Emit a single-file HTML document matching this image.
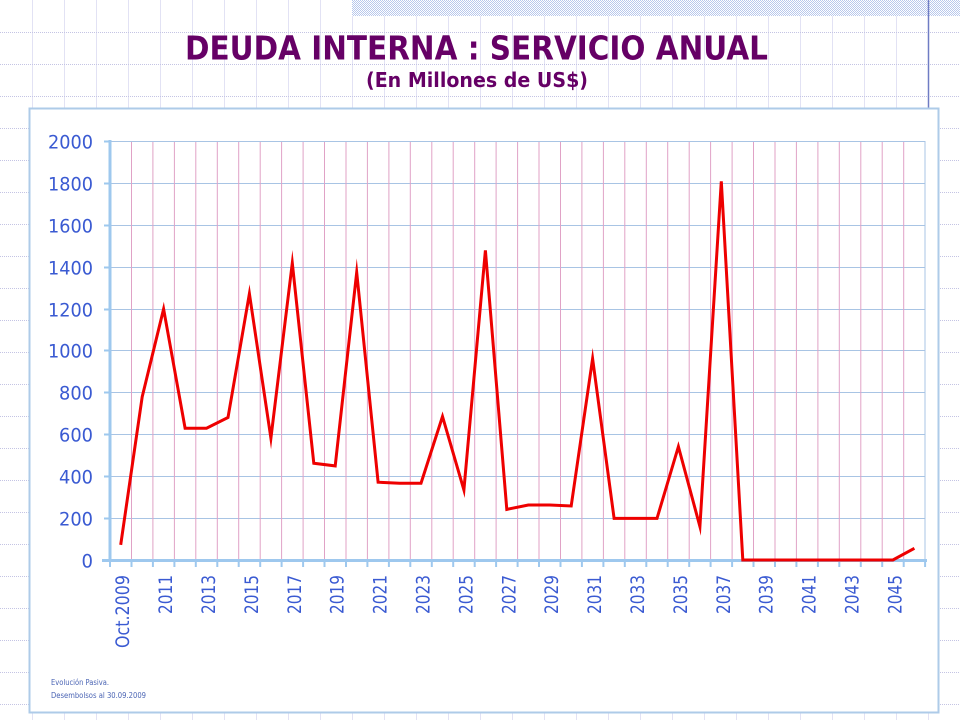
<!DOCTYPE html>
<html>
<head>
<meta charset="utf-8">
<style>
  html, body { margin:0; padding:0; background:#ffffff; }
  body { width:960px; height:720px; overflow:hidden; }
  svg { display:block; }
</style>
</head>
<body>
<svg width="960" height="720" viewBox="0 0 960 720" xmlns="http://www.w3.org/2000/svg">
  <defs>
    <pattern id="chk" width="2" height="2" patternUnits="userSpaceOnUse">
      <rect width="2" height="2" fill="#ffffff"/>
      <rect x="0" y="0" width="1" height="1" fill="#b8c8ec"/>
      <rect x="1" y="1" width="1" height="1" fill="#b8c8ec"/>
    </pattern>
  </defs>

  <!-- background grid -->
  <g stroke="#e2e2f4" stroke-width="1">
    <line x1="32.5" y1="0" x2="32.5" y2="720"/><line x1="64.5" y1="0" x2="64.5" y2="720"/>
    <line x1="96.5" y1="0" x2="96.5" y2="720"/><line x1="128.5" y1="0" x2="128.5" y2="720"/>
    <line x1="160.5" y1="0" x2="160.5" y2="720"/><line x1="192.5" y1="0" x2="192.5" y2="720"/>
    <line x1="224.5" y1="0" x2="224.5" y2="720"/><line x1="256.5" y1="0" x2="256.5" y2="720"/>
    <line x1="288.5" y1="0" x2="288.5" y2="720"/><line x1="320.5" y1="0" x2="320.5" y2="720"/>
    <line x1="352.5" y1="0" x2="352.5" y2="720"/><line x1="384.5" y1="0" x2="384.5" y2="720"/>
    <line x1="416.5" y1="0" x2="416.5" y2="720"/><line x1="448.5" y1="0" x2="448.5" y2="720"/>
    <line x1="480.5" y1="0" x2="480.5" y2="720"/><line x1="512.5" y1="0" x2="512.5" y2="720"/>
    <line x1="544.5" y1="0" x2="544.5" y2="720"/><line x1="576.5" y1="0" x2="576.5" y2="720"/>
    <line x1="608.5" y1="0" x2="608.5" y2="720"/><line x1="640.5" y1="0" x2="640.5" y2="720"/>
    <line x1="672.5" y1="0" x2="672.5" y2="720"/><line x1="704.5" y1="0" x2="704.5" y2="720"/>
    <line x1="736.5" y1="0" x2="736.5" y2="720"/><line x1="768.5" y1="0" x2="768.5" y2="720"/>
    <line x1="800.5" y1="0" x2="800.5" y2="720"/><line x1="832.5" y1="0" x2="832.5" y2="720"/>
    <line x1="864.5" y1="0" x2="864.5" y2="720"/><line x1="896.5" y1="0" x2="896.5" y2="720"/>
    <line x1="928.5" y1="0" x2="928.5" y2="720"/>
  </g>
  <g stroke="#c4c4e4" stroke-width="1" stroke-dasharray="1,1">
    <line x1="0" y1="32.5" x2="960" y2="32.5"/><line x1="0" y1="64.5" x2="960" y2="64.5"/>
    <line x1="0" y1="96.5" x2="960" y2="96.5"/><line x1="0" y1="128.5" x2="960" y2="128.5"/>
    <line x1="0" y1="160.5" x2="960" y2="160.5"/><line x1="0" y1="192.5" x2="960" y2="192.5"/>
    <line x1="0" y1="224.5" x2="960" y2="224.5"/><line x1="0" y1="256.5" x2="960" y2="256.5"/>
    <line x1="0" y1="288.5" x2="960" y2="288.5"/><line x1="0" y1="320.5" x2="960" y2="320.5"/>
    <line x1="0" y1="352.5" x2="960" y2="352.5"/><line x1="0" y1="384.5" x2="960" y2="384.5"/>
    <line x1="0" y1="416.5" x2="960" y2="416.5"/><line x1="0" y1="448.5" x2="960" y2="448.5"/>
    <line x1="0" y1="480.5" x2="960" y2="480.5"/><line x1="0" y1="512.5" x2="960" y2="512.5"/>
    <line x1="0" y1="544.5" x2="960" y2="544.5"/><line x1="0" y1="576.5" x2="960" y2="576.5"/>
    <line x1="0" y1="608.5" x2="960" y2="608.5"/><line x1="0" y1="640.5" x2="960" y2="640.5"/>
    <line x1="0" y1="672.5" x2="960" y2="672.5"/><line x1="0" y1="704.5" x2="960" y2="704.5"/>
  </g>

  <!-- top-right pattern bar -->
  <rect x="352" y="0" width="608" height="16" fill="url(#chk)"/>
  <line x1="928.5" y1="0" x2="928.5" y2="108" stroke="#6f7cc4" stroke-width="1.5"/>

  <!-- title -->
  <text x="185" y="59.5" font-family="'DejaVu Sans', 'Liberation Sans', sans-serif" font-weight="bold" font-size="33" fill="#660066" textLength="583" lengthAdjust="spacingAndGlyphs">DEUDA INTERNA : SERVICIO ANUAL</text>
  <text x="366" y="87" font-family="'DejaVu Sans', 'Liberation Sans', sans-serif" font-weight="bold" font-size="20" fill="#660066" textLength="222" lengthAdjust="spacingAndGlyphs">(En Millones de US$)</text>

  <!-- chart box -->
  <rect x="29.5" y="108.5" width="909" height="604" fill="#ffffff" stroke="#aecbe8" stroke-width="2"/>

  <!-- horizontal gridlines -->
  <g stroke="#a8c4e4" stroke-width="1">
    <line x1="110" y1="141.5" x2="925" y2="141.5"/>
    <line x1="110" y1="183.5" x2="925" y2="183.5"/>
    <line x1="110" y1="225.5" x2="925" y2="225.5"/>
    <line x1="110" y1="267.5" x2="925" y2="267.5"/>
    <line x1="110" y1="309.5" x2="925" y2="309.5"/>
    <line x1="110" y1="350.5" x2="925" y2="350.5"/>
    <line x1="110" y1="392.5" x2="925" y2="392.5"/>
    <line x1="110" y1="434.5" x2="925" y2="434.5"/>
    <line x1="110" y1="476.5" x2="925" y2="476.5"/>
    <line x1="110" y1="518.5" x2="925" y2="518.5"/>
    <line x1="925" y1="141" x2="925" y2="560"/>
  </g>

  <!-- vertical pink lines -->
  <g stroke="#e0a2c6" stroke-width="1">
    <line x1="131.5" y1="142" x2="131.5" y2="560"/><line x1="152.9" y1="142" x2="152.9" y2="560"/>
    <line x1="174.4" y1="142" x2="174.4" y2="560"/><line x1="195.8" y1="142" x2="195.8" y2="560"/>
    <line x1="217.3" y1="142" x2="217.3" y2="560"/><line x1="238.7" y1="142" x2="238.7" y2="560"/>
    <line x1="260.2" y1="142" x2="260.2" y2="560"/><line x1="281.6" y1="142" x2="281.6" y2="560"/>
    <line x1="303.1" y1="142" x2="303.1" y2="560"/><line x1="324.5" y1="142" x2="324.5" y2="560"/>
    <line x1="346.0" y1="142" x2="346.0" y2="560"/><line x1="367.4" y1="142" x2="367.4" y2="560"/>
    <line x1="388.9" y1="142" x2="388.9" y2="560"/><line x1="410.3" y1="142" x2="410.3" y2="560"/>
    <line x1="431.8" y1="142" x2="431.8" y2="560"/><line x1="453.2" y1="142" x2="453.2" y2="560"/>
    <line x1="474.7" y1="142" x2="474.7" y2="560"/><line x1="496.1" y1="142" x2="496.1" y2="560"/>
    <line x1="517.6" y1="142" x2="517.6" y2="560"/><line x1="539.0" y1="142" x2="539.0" y2="560"/>
    <line x1="560.5" y1="142" x2="560.5" y2="560"/><line x1="581.9" y1="142" x2="581.9" y2="560"/>
    <line x1="603.4" y1="142" x2="603.4" y2="560"/><line x1="624.8" y1="142" x2="624.8" y2="560"/>
    <line x1="646.3" y1="142" x2="646.3" y2="560"/><line x1="667.7" y1="142" x2="667.7" y2="560"/>
    <line x1="689.2" y1="142" x2="689.2" y2="560"/><line x1="710.6" y1="142" x2="710.6" y2="560"/>
    <line x1="732.1" y1="142" x2="732.1" y2="560"/><line x1="753.5" y1="142" x2="753.5" y2="560"/>
    <line x1="775.0" y1="142" x2="775.0" y2="560"/><line x1="796.4" y1="142" x2="796.4" y2="560"/>
    <line x1="817.9" y1="142" x2="817.9" y2="560"/><line x1="839.3" y1="142" x2="839.3" y2="560"/>
    <line x1="860.8" y1="142" x2="860.8" y2="560"/><line x1="882.2" y1="142" x2="882.2" y2="560"/>
    <line x1="903.7" y1="142" x2="903.7" y2="560"/>
  </g>

  <!-- axes -->
  <g stroke="#9ec8ee" stroke-width="3" fill="none">
    <line x1="110" y1="140" x2="110" y2="561"/>
    <line x1="102" y1="560.5" x2="927" y2="560.5"/>
  </g>
  <g stroke="#9ec8ee" stroke-width="2">
    <line x1="104" y1="141.5" x2="110" y2="141.5"/><line x1="104" y1="183.5" x2="110" y2="183.5"/>
    <line x1="104" y1="225.5" x2="110" y2="225.5"/><line x1="104" y1="267.5" x2="110" y2="267.5"/>
    <line x1="104" y1="309.5" x2="110" y2="309.5"/><line x1="104" y1="350.5" x2="110" y2="350.5"/>
    <line x1="104" y1="392.5" x2="110" y2="392.5"/><line x1="104" y1="434.5" x2="110" y2="434.5"/>
    <line x1="104" y1="476.5" x2="110" y2="476.5"/><line x1="104" y1="518.5" x2="110" y2="518.5"/>
    <line x1="110" y1="560" x2="110" y2="567"/><line x1="131.5" y1="560" x2="131.5" y2="567"/>
    <line x1="152.9" y1="560" x2="152.9" y2="567"/><line x1="174.4" y1="560" x2="174.4" y2="567"/>
    <line x1="195.8" y1="560" x2="195.8" y2="567"/><line x1="217.3" y1="560" x2="217.3" y2="567"/>
    <line x1="238.7" y1="560" x2="238.7" y2="567"/><line x1="260.2" y1="560" x2="260.2" y2="567"/>
    <line x1="281.6" y1="560" x2="281.6" y2="567"/><line x1="303.1" y1="560" x2="303.1" y2="567"/>
    <line x1="324.5" y1="560" x2="324.5" y2="567"/><line x1="346.0" y1="560" x2="346.0" y2="567"/>
    <line x1="367.4" y1="560" x2="367.4" y2="567"/><line x1="388.9" y1="560" x2="388.9" y2="567"/>
    <line x1="410.3" y1="560" x2="410.3" y2="567"/><line x1="431.8" y1="560" x2="431.8" y2="567"/>
    <line x1="453.2" y1="560" x2="453.2" y2="567"/><line x1="474.7" y1="560" x2="474.7" y2="567"/>
    <line x1="496.1" y1="560" x2="496.1" y2="567"/><line x1="517.6" y1="560" x2="517.6" y2="567"/>
    <line x1="539.0" y1="560" x2="539.0" y2="567"/><line x1="560.5" y1="560" x2="560.5" y2="567"/>
    <line x1="581.9" y1="560" x2="581.9" y2="567"/><line x1="603.4" y1="560" x2="603.4" y2="567"/>
    <line x1="624.8" y1="560" x2="624.8" y2="567"/><line x1="646.3" y1="560" x2="646.3" y2="567"/>
    <line x1="667.7" y1="560" x2="667.7" y2="567"/><line x1="689.2" y1="560" x2="689.2" y2="567"/>
    <line x1="710.6" y1="560" x2="710.6" y2="567"/><line x1="732.1" y1="560" x2="732.1" y2="567"/>
    <line x1="753.5" y1="560" x2="753.5" y2="567"/><line x1="775.0" y1="560" x2="775.0" y2="567"/>
    <line x1="796.4" y1="560" x2="796.4" y2="567"/><line x1="817.9" y1="560" x2="817.9" y2="567"/>
    <line x1="839.3" y1="560" x2="839.3" y2="567"/><line x1="860.8" y1="560" x2="860.8" y2="567"/>
    <line x1="882.2" y1="560" x2="882.2" y2="567"/><line x1="903.7" y1="560" x2="903.7" y2="567"/>
    <line x1="925.1" y1="560" x2="925.1" y2="567"/>
  </g>

  <!-- y labels -->
  <g font-family="'DejaVu Sans', 'Liberation Sans', sans-serif" font-size="19" fill="#3a5ad2" text-anchor="end" lengthAdjust="spacingAndGlyphs">
    <text x="93" y="148.5" textLength="45" lengthAdjust="spacingAndGlyphs">2000</text>
    <text x="93" y="190.5" textLength="45" lengthAdjust="spacingAndGlyphs">1800</text>
    <text x="93" y="232.5" textLength="45" lengthAdjust="spacingAndGlyphs">1600</text>
    <text x="93" y="274.5" textLength="45" lengthAdjust="spacingAndGlyphs">1400</text>
    <text x="93" y="316.5" textLength="45" lengthAdjust="spacingAndGlyphs">1200</text>
    <text x="93" y="357.5" textLength="45" lengthAdjust="spacingAndGlyphs">1000</text>
    <text x="93" y="399.5" textLength="34" lengthAdjust="spacingAndGlyphs">800</text>
    <text x="93" y="441.5" textLength="34" lengthAdjust="spacingAndGlyphs">600</text>
    <text x="93" y="483.5" textLength="34" lengthAdjust="spacingAndGlyphs">400</text>
    <text x="93" y="525.5" textLength="34" lengthAdjust="spacingAndGlyphs">200</text>
    <text x="93" y="567.5" textLength="11.5" lengthAdjust="spacingAndGlyphs">0</text>
  </g>

  <!-- x labels -->
  <g font-family="'DejaVu Sans', 'Liberation Sans', sans-serif" font-size="19" fill="#3a5ad2" text-anchor="end">
    <text transform="translate(129.2,575) rotate(-90)" textLength="73" lengthAdjust="spacingAndGlyphs">Oct.2009</text>
    <text transform="translate(172.1,575) rotate(-90)" textLength="39" lengthAdjust="spacingAndGlyphs">2011</text>
    <text transform="translate(215.0,575) rotate(-90)" textLength="39" lengthAdjust="spacingAndGlyphs">2013</text>
    <text transform="translate(257.9,575) rotate(-90)" textLength="39" lengthAdjust="spacingAndGlyphs">2015</text>
    <text transform="translate(300.8,575) rotate(-90)" textLength="39" lengthAdjust="spacingAndGlyphs">2017</text>
    <text transform="translate(343.7,575) rotate(-90)" textLength="39" lengthAdjust="spacingAndGlyphs">2019</text>
    <text transform="translate(386.6,575) rotate(-90)" textLength="39" lengthAdjust="spacingAndGlyphs">2021</text>
    <text transform="translate(429.5,575) rotate(-90)" textLength="39" lengthAdjust="spacingAndGlyphs">2023</text>
    <text transform="translate(472.4,575) rotate(-90)" textLength="39" lengthAdjust="spacingAndGlyphs">2025</text>
    <text transform="translate(515.3,575) rotate(-90)" textLength="39" lengthAdjust="spacingAndGlyphs">2027</text>
    <text transform="translate(558.2,575) rotate(-90)" textLength="39" lengthAdjust="spacingAndGlyphs">2029</text>
    <text transform="translate(601.1,575) rotate(-90)" textLength="39" lengthAdjust="spacingAndGlyphs">2031</text>
    <text transform="translate(644.0,575) rotate(-90)" textLength="39" lengthAdjust="spacingAndGlyphs">2033</text>
    <text transform="translate(686.9,575) rotate(-90)" textLength="39" lengthAdjust="spacingAndGlyphs">2035</text>
    <text transform="translate(729.8,575) rotate(-90)" textLength="39" lengthAdjust="spacingAndGlyphs">2037</text>
    <text transform="translate(772.7,575) rotate(-90)" textLength="39" lengthAdjust="spacingAndGlyphs">2039</text>
    <text transform="translate(815.6,575) rotate(-90)" textLength="39" lengthAdjust="spacingAndGlyphs">2041</text>
    <text transform="translate(858.5,575) rotate(-90)" textLength="39" lengthAdjust="spacingAndGlyphs">2043</text>
    <text transform="translate(901.4,575) rotate(-90)" textLength="39" lengthAdjust="spacingAndGlyphs">2045</text>
  </g>

  <!-- data line -->
  <polyline fill="none" stroke="#ee0000" stroke-width="3" stroke-linejoin="miter" stroke-miterlimit="10"
    points="120.7,544.9 142.2,396.8 163.6,309.0 185.1,428.2 206.5,428.2 228.0,417.5 249.4,293.7 270.9,438.2 292.3,263.1 313.8,463.3 335.2,465.9 356.7,272.4 378.1,482.2 399.6,483.2 421.0,483.2 442.5,416.5 463.9,489.9 485.4,250.4 506.8,509.4 528.3,505.0 549.7,505.0 571.2,506.0 592.6,358.7 614.1,518.4 635.5,518.4 657.0,518.4 678.4,446.6 699.9,526.5 721.3,181.3 742.8,560 764.2,560 785.7,560 807.1,560 828.6,560 850.0,560 871.5,560 892.9,560 914.4,548.3"/>

  <!-- notes -->
  <g font-family="'DejaVu Sans', 'Liberation Sans', sans-serif" font-size="8" fill="#4a64b4">
    <text x="51" y="685" textLength="58" lengthAdjust="spacingAndGlyphs">Evolución Pasiva.</text>
    <text x="51" y="698" textLength="95" lengthAdjust="spacingAndGlyphs">Desembolsos al 30.09.2009</text>
  </g>
</svg>
</body>
</html>
